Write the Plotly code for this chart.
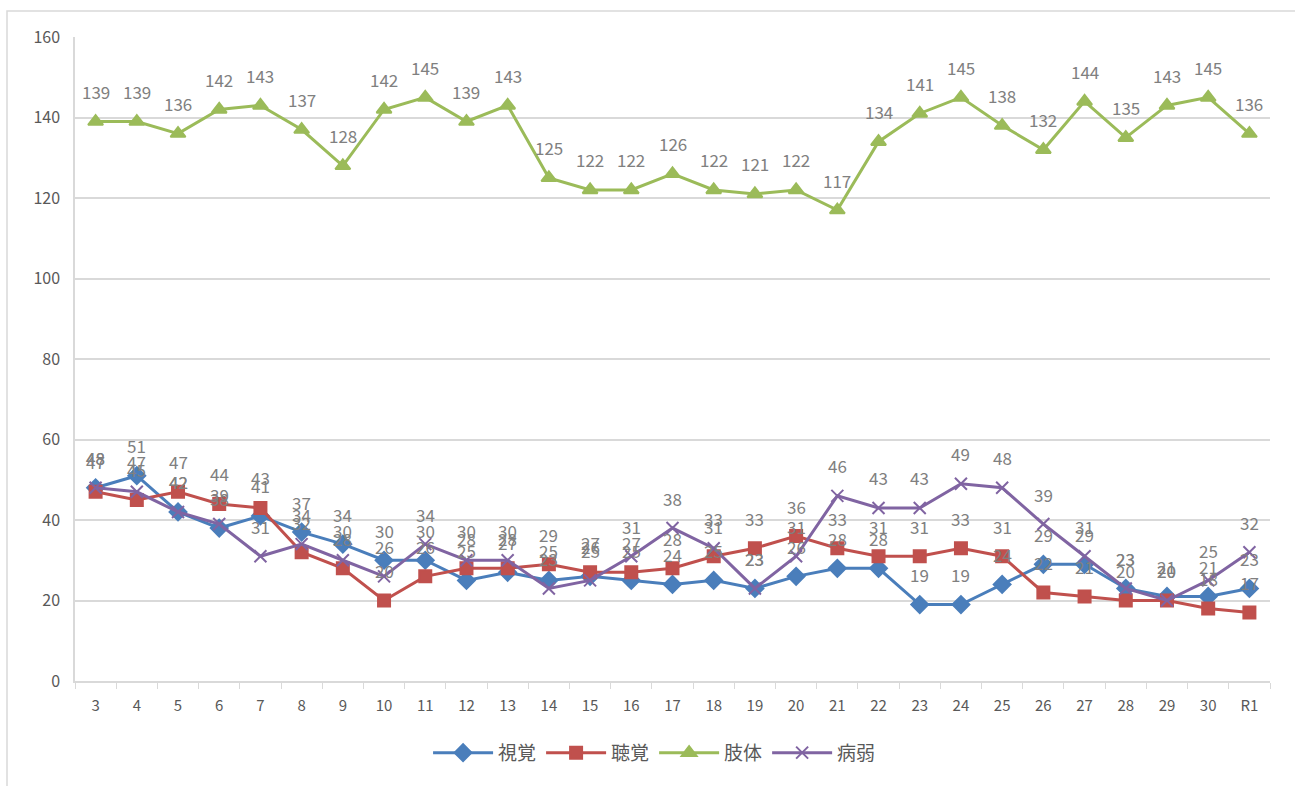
import plotly.graph_objects as go

categories = ["3", "4", "5", "6", "7", "8", "9", "10", "11", "12", "13", "14", "15", "16",
              "17", "18", "19", "20", "21", "22", "23", "24", "25", "26", "27", "28", "29", "30", "R1"]

shikaku = [48, 51, 42, 38, 41, 37, 34, 30, 30, 25, 27, 25, 26, 25, 24, 25, 23, 26, 28, 28,
           19, 19, 24, 29, 29, 23, 21, 21, 23]
choukaku = [47, 45, 47, 44, 43, 32, 28, 20, 26, 28, 28, 29, 27, 27, 28, 31, 33, 36, 33, 31,
            31, 33, 31, 22, 21, 20, 20, 18, 17]
shitai = [139, 139, 136, 142, 143, 137, 128, 142, 145, 139, 143, 125, 122, 122, 126, 122, 121,
          122, 117, 134, 141, 145, 138, 132, 144, 135, 143, 145, 136]
byoujaku = [48, 47, 42, 39, 31, 34, 30, 26, 34, 30, 30, 23, 25, 31, 38, 33, 23, 31, 46, 43,
            43, 49, 48, 39, 31, 23, 20, 25, 32]

series = [
    ("視覚", shikaku, "#4A7EBB", "diamond", 13),
    ("聴覚", choukaku, "#C0504D", "square", 12),
    ("肢体", shitai, "#9BBB59", "triangle-up", 13),
    ("病弱", byoujaku, "#8064A2", "x-thin", 12),
]

FONT = "Noto Sans CJK JP, Open Sans, sans-serif"

fig = go.Figure()
annotations = []
for name, vals, color, sym, size in series:
    fig.add_trace(go.Scatter(
        x=categories, y=vals, name=name, mode="lines+markers",
        line=dict(color=color, width=3),
        marker=dict(symbol=sym, size=size, color=color,
                    line=dict(color=color, width=2)),
    ))
    for i, v in enumerate(vals):
        annotations.append(dict(
            x=i, y=v, xref="x", yref="y", text=str(v), showarrow=False, yshift=30,
            font=dict(family=FONT, size=17, color="#808080"),
        ))

fig.update_layout(
    width=1295, height=786,
    margin=dict(l=75, r=25, t=37, b=105),
    paper_bgcolor="white", plot_bgcolor="white",
    font=dict(family=FONT, color="#595959"),
    showlegend=True,
    legend=dict(orientation="h", x=0.485, xanchor="center", y=-0.082, yanchor="top",
                font=dict(family=FONT, size=19, color="#595959"),
                itemwidth=60, tracegroupgap=0),
    annotations=annotations,
    shapes=[dict(type="rect", xref="paper", yref="paper",
                 x0=(7 - 75) / 1195, x1=(1310 - 75) / 1195,
                 y0=(681 - 800) / 644, y1=(681 - 11) / 644,
                 line=dict(color="#D9D9D9", width=1.5), layer="below")],
)

fig.update_xaxes(
    type="category", range=[-0.5, len(categories) - 0.5],
    showgrid=False, showline=True, linecolor="#D9D9D9", linewidth=1.5,
    ticks="outside", tickson="boundaries", ticklen=6, tickcolor="#D9D9D9",
    ticklabelstandoff=10,
    tickfont=dict(family=FONT, size=15, color="#595959"),
)
fig.update_yaxes(
    range=[0, 160], dtick=20, showgrid=True, gridcolor="#D9D9D9", gridwidth=1.5,
    showline=True, linecolor="#D9D9D9", linewidth=1.5, zeroline=False,
    ticks="", ticklabelstandoff=10, tickfont=dict(family=FONT, size=16, color="#595959"),
)

fig.write_html("out.html", config={"displayModeBar": False},
               post_script="document.body.style.margin='0';")
